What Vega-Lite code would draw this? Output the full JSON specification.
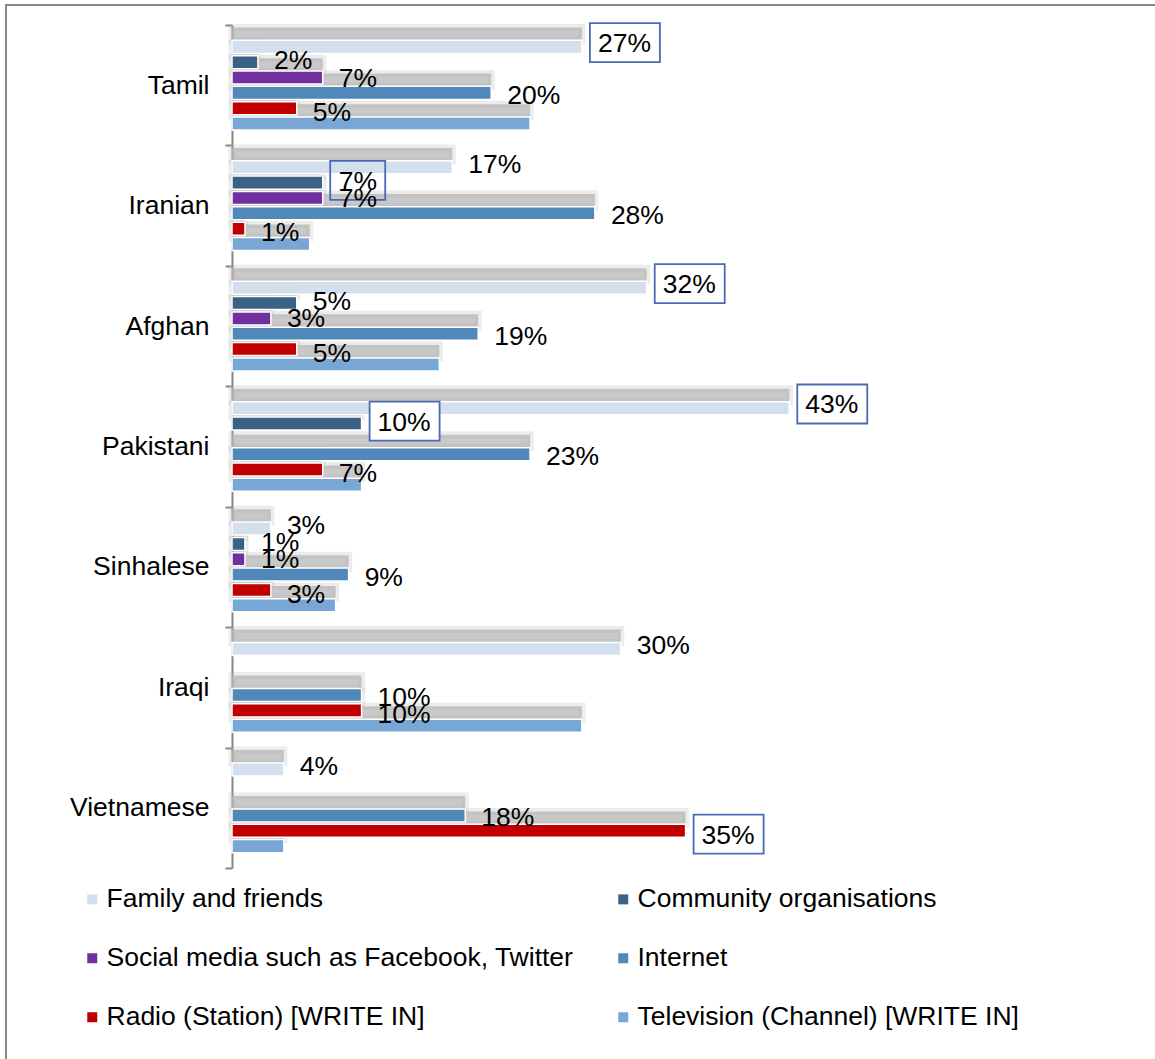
{
  "$schema": "https://vega.github.io/schema/vega-lite/v6.json",
  "autosize": "none",
  "width": 1159,
  "height": 1064,
  "padding": {"left": 6, "top": 5, "right": -10, "bottom": -10},
  "background": "white",
  "config": {
    "view": {"stroke": "#888888", "strokeWidth": 2},
    "font": "Liberation Sans"
  },
  "data": {
    "values": [
      {"group": "Tamil", "source": "Family and friends", "value": 0.27, "highlight": true},
      {"group": "Tamil", "source": "Community organisations", "value": 0.02, "highlight": false},
      {"group": "Tamil", "source": "Social media such as Facebook, Twitter", "value": 0.07, "highlight": false},
      {"group": "Tamil", "source": "Internet", "value": 0.20, "highlight": false},
      {"group": "Tamil", "source": "Radio (Station) [WRITE IN]", "value": 0.05, "highlight": false},
      {"group": "Tamil", "source": "Television (Channel) [WRITE IN]", "value": 0.23, "highlight": false},
      {"group": "Iranian", "source": "Family and friends", "value": 0.17, "highlight": false},
      {"group": "Iranian", "source": "Community organisations", "value": 0.07, "highlight": true},
      {"group": "Iranian", "source": "Social media such as Facebook, Twitter", "value": 0.07, "highlight": false},
      {"group": "Iranian", "source": "Internet", "value": 0.28, "highlight": false},
      {"group": "Iranian", "source": "Radio (Station) [WRITE IN]", "value": 0.01, "highlight": false},
      {"group": "Iranian", "source": "Television (Channel) [WRITE IN]", "value": 0.06, "highlight": false},
      {"group": "Afghan", "source": "Family and friends", "value": 0.32, "highlight": true},
      {"group": "Afghan", "source": "Community organisations", "value": 0.05, "highlight": false},
      {"group": "Afghan", "source": "Social media such as Facebook, Twitter", "value": 0.03, "highlight": false},
      {"group": "Afghan", "source": "Internet", "value": 0.19, "highlight": false},
      {"group": "Afghan", "source": "Radio (Station) [WRITE IN]", "value": 0.05, "highlight": false},
      {"group": "Afghan", "source": "Television (Channel) [WRITE IN]", "value": 0.16, "highlight": false},
      {"group": "Pakistani", "source": "Family and friends", "value": 0.43, "highlight": true},
      {"group": "Pakistani", "source": "Community organisations", "value": 0.10, "highlight": true},
      {"group": "Pakistani", "source": "Internet", "value": 0.23, "highlight": false},
      {"group": "Pakistani", "source": "Radio (Station) [WRITE IN]", "value": 0.07, "highlight": false},
      {"group": "Pakistani", "source": "Television (Channel) [WRITE IN]", "value": 0.10, "highlight": false},
      {"group": "Sinhalese", "source": "Family and friends", "value": 0.03, "highlight": false},
      {"group": "Sinhalese", "source": "Community organisations", "value": 0.01, "highlight": false},
      {"group": "Sinhalese", "source": "Social media such as Facebook, Twitter", "value": 0.01, "highlight": false},
      {"group": "Sinhalese", "source": "Internet", "value": 0.09, "highlight": false},
      {"group": "Sinhalese", "source": "Radio (Station) [WRITE IN]", "value": 0.03, "highlight": false},
      {"group": "Sinhalese", "source": "Television (Channel) [WRITE IN]", "value": 0.08, "highlight": false},
      {"group": "Iraqi", "source": "Family and friends", "value": 0.30, "highlight": false},
      {"group": "Iraqi", "source": "Internet", "value": 0.10, "highlight": false},
      {"group": "Iraqi", "source": "Radio (Station) [WRITE IN]", "value": 0.10, "highlight": false},
      {"group": "Iraqi", "source": "Television (Channel) [WRITE IN]", "value": 0.27, "highlight": false},
      {"group": "Vietnamese", "source": "Family and friends", "value": 0.04, "highlight": false},
      {"group": "Vietnamese", "source": "Internet", "value": 0.18, "highlight": false},
      {"group": "Vietnamese", "source": "Radio (Station) [WRITE IN]", "value": 0.35, "highlight": true},
      {"group": "Vietnamese", "source": "Television (Channel) [WRITE IN]", "value": 0.04, "highlight": false}
    ]
  },
  "encoding": {
    "y": {
      "field": "group",
      "type": "nominal",
      "scale": {
        "domain": ["Tamil", "Iranian", "Afghan", "Pakistani", "Sinhalese", "Iraqi", "Vietnamese"],
        "range": [20, 863],
        "paddingInner": 0,
        "paddingOuter": 0
      },
      "axis": {
        "title": null,
        "orient": "left",
        "offset": -226,
        "domainColor": "#868686",
        "domainWidth": 2,
        "tickColor": "#868686",
        "tickWidth": 2,
        "tickSize": 7,
        "tickBand": "extent",
        "labelFontSize": 26.5,
        "labelFont": "Liberation Sans",
        "labelColor": "#000000",
        "labelPadding": 16,
        "grid": false
      }
    },
    "x": {
      "field": "value",
      "type": "quantitative",
      "scale": {"domain": [-0.17438, 0.71991], "nice": false, "zero": false},
      "axis": null
    }
  },
  "layer": [
    {
      "mark": {"type": "bar", "fill": "#b4b4b4", "fillOpacity": 0.72, "stroke": "#b4b4b4", "strokeOpacity": 0.25, "strokeWidth": 7},
      "encoding": {
        "x2": {"datum": 0},
        "yOffset": {
          "field": "source",
          "type": "nominal",
          "scale": {
            "domain": ["Family and friends", "Community organisations", "Social media such as Facebook, Twitter", "Internet", "Radio (Station) [WRITE IN]", "Television (Channel) [WRITE IN]"],
            "paddingInner": 0.15,
            "paddingOuter": 1.24,
            "align": 0.08
          }
        }
      }
    },
    {
      "mark": {"type": "bar", "stroke": "white", "strokeWidth": 1.5},
      "encoding": {
        "x2": {"datum": 0},
        "yOffset": {
          "field": "source",
          "type": "nominal",
          "scale": {
            "domain": ["Family and friends", "Community organisations", "Social media such as Facebook, Twitter", "Internet", "Radio (Station) [WRITE IN]", "Television (Channel) [WRITE IN]"],
            "paddingInner": 0.15,
            "paddingOuter": 1.24,
            "align": 0.5
          }
        },
        "color": {
          "field": "source",
          "type": "nominal",
          "scale": {
            "domain": ["Family and friends", "Community organisations", "Social media such as Facebook, Twitter", "Internet", "Radio (Station) [WRITE IN]", "Television (Channel) [WRITE IN]"],
            "range": ["#d4dfee", "#3c6186", "#7030a0", "#4f88b9", "#c00000", "#78a7d5"]
          },
          "legend": {
            "title": null,
            "orient": "none",
            "direction": "horizontal",
            "legendX": 73,
            "legendY": 881,
            "columns": 2,
            "symbolType": "square",
            "symbolSize": 100,
            "symbolStrokeWidth": 0,
            "labelFontSize": 26.5,
            "labelFont": "Liberation Sans",
            "labelColor": "#000000",
            "labelOffset": 1,
            "labelLimit": 800,
            "rowPadding": 32,
            "columnPadding": 36,
            "padding": 0
          }
        }
      }
    },
    {
      "transform": [{"filter": "datum.highlight && datum.value >= 0.095"}],
      "mark": {"type": "point", "shape": "M0.8,-1.9 L7.8,-1.9 L7.8,2 L0.8,2 Z", "size": 400, "filled": true, "fill": "white", "fillOpacity": 1, "stroke": "#4a6ab5", "strokeWidth": 1.8, "opacity": 1},
      "encoding": {
        "yOffset": {
          "field": "source",
          "type": "nominal",
          "scale": {
            "domain": ["Family and friends", "Community organisations", "Social media such as Facebook, Twitter", "Internet", "Radio (Station) [WRITE IN]", "Television (Channel) [WRITE IN]"],
            "paddingInner": 0.15,
            "paddingOuter": 1.24,
            "align": 0.5
          }
        }
      }
    },
    {
      "transform": [{"filter": "datum.highlight && datum.value < 0.095"}],
      "mark": {"type": "point", "shape": "M0.75,-1.9 L6.25,-1.9 L6.25,2 L0.75,2 Z", "size": 400, "filled": false, "fillOpacity": 0, "stroke": "#4a6ab5", "strokeWidth": 1.8, "opacity": 1},
      "encoding": {
        "yOffset": {
          "field": "source",
          "type": "nominal",
          "scale": {
            "domain": ["Family and friends", "Community organisations", "Social media such as Facebook, Twitter", "Internet", "Radio (Station) [WRITE IN]", "Television (Channel) [WRITE IN]"],
            "paddingInner": 0.15,
            "paddingOuter": 1.24,
            "align": 0.5
          }
        }
      }
    },
    {
      "transform": [{"filter": "datum.source !== 'Television (Channel) [WRITE IN]'"}],
      "mark": {"type": "text", "align": "left", "baseline": "middle", "dx": 16, "dy": 2, "fontSize": 26.5, "font": "Liberation Sans", "color": "#000000"},
      "encoding": {
        "text": {"field": "value", "type": "quantitative", "format": ".0%"},
        "yOffset": {
          "field": "source",
          "type": "nominal",
          "scale": {
            "domain": ["Family and friends", "Community organisations", "Social media such as Facebook, Twitter", "Internet", "Radio (Station) [WRITE IN]", "Television (Channel) [WRITE IN]"],
            "paddingInner": 0.15,
            "paddingOuter": 1.24,
            "align": 0.5
          }
        }
      }
    }
  ],
  "resolve": {"scale": {"yOffset": "independent"}}
}
